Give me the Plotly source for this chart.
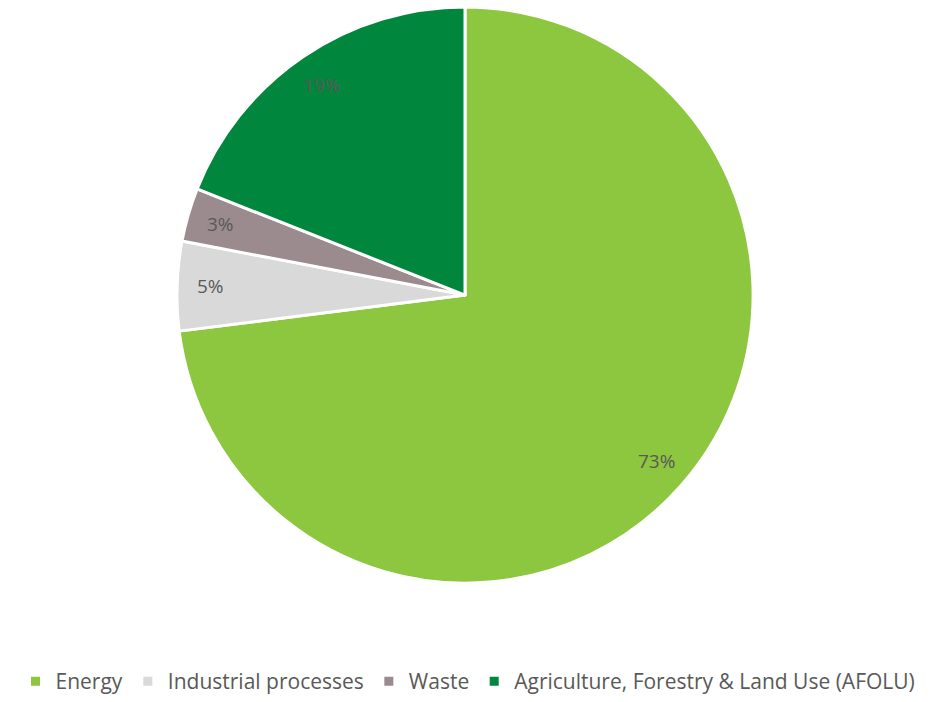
import math
import plotly.graph_objects as go

# Emission shares by sector (%)
sectors = ["Energy", "Industrial processes", "Waste",
           "Agriculture, Forestry & Land Use (AFOLU)"]
shares = [73, 5, 3, 19]
colors = ["#8DC63F", "#D9D9D9", "#9B8B8F", "#00863D"]

W, H = 936, 702
cx, cy, R = 465, 297, 288  # pie centre and radius in pixels

# Domain box slightly larger than the drawn radius (Plotly trims a few px)
Rd = R + 3
dom_x = [(cx - Rd) / W, (cx + Rd) / W]
dom_y = [(H - cy - 1 - Rd) / H, (H - cy - 1 + Rd) / H]

FONT = "Open Sans, Lato, sans-serif"

fig = go.Figure(go.Pie(
    labels=sectors,
    values=shares,
    sort=False,
    direction="clockwise",
    rotation=0,
    marker=dict(colors=colors, line=dict(color="white", width=3)),
    textinfo="none",
    hoverinfo="label+percent",
    domain=dict(x=dom_x, y=dom_y),
))

# Percentage labels placed near the rim along each slice's mid-angle
total = sum(shares)
start = 0.0
annotations = []
for name, v in zip(sectors, shares):
    mid = start + v / total * 360 / 2
    start += v / total * 360
    a = math.radians(mid)
    r = 0.885 * R
    px = cx + r * math.sin(a)
    py = cy - r * math.cos(a)
    annotations.append(dict(
        x=px / W, y=1 - py / H, xref="paper", yref="paper",
        xanchor="center", yanchor="middle",
        text=f"{v}%", showarrow=False,
        font=dict(family=FONT, size=19, color="#595959"),
    ))

fig.update_layout(
    width=W, height=H,
    margin=dict(l=0, r=0, t=0, b=0),
    paper_bgcolor="white",
    plot_bgcolor="white",
    annotations=annotations,
    showlegend=True,
    legend=dict(
        orientation="h",
        x=0.5, xanchor="center",
        y=0.019, yanchor="middle",
        font=dict(family=FONT, size=21, color="#595959"),
    ),
)

fig.write_html("out.html")
